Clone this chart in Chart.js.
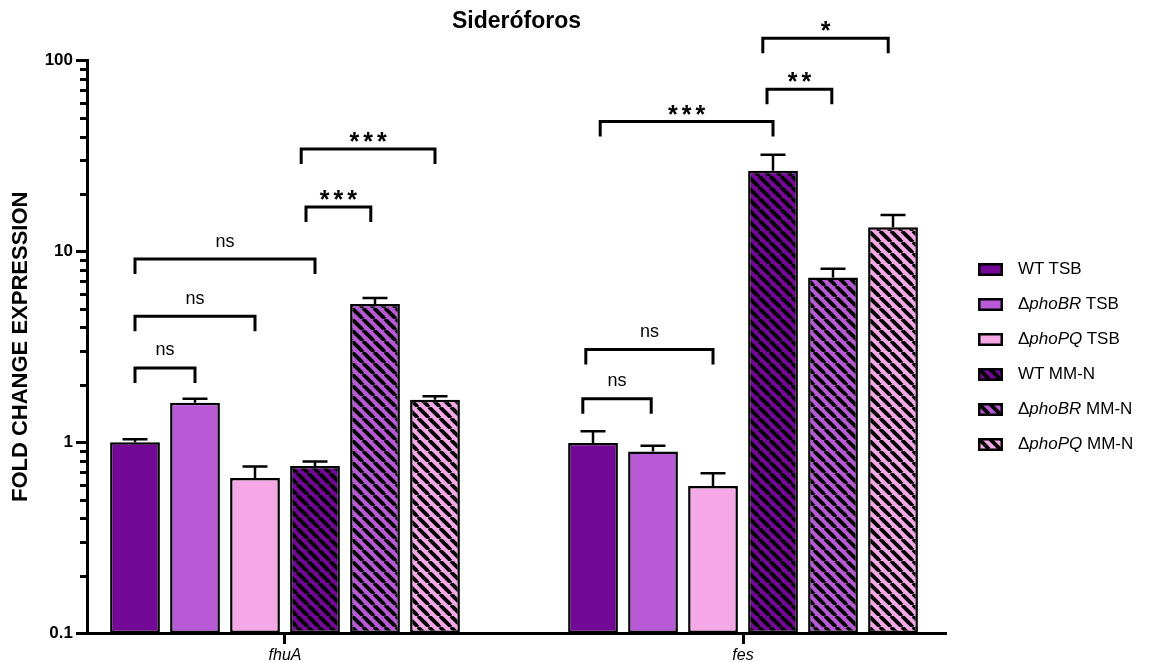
<!DOCTYPE html>
<html>
<head>
<meta charset="utf-8">
<script src="https://cdn.jsdelivr.net/npm/chart.js@4.4.1/dist/chart.umd.min.js"></script>
<style>
  body { margin: 0; background: #fff; }
  #wrap { position: relative; width: 1151px; height: 663px; }
  #legend { position: absolute; left: 978px; top: 0; font: 17px "Liberation Sans", Arial, sans-serif; color: #000; }
  .row { position: absolute; left: 0; height: 20px; display: flex; align-items: center; white-space: nowrap; }
  .row canvas { margin-right: 15px; }
</style>
</head>
<body>
<div id="wrap">
  <canvas id="chart"></canvas>
  <div id="legend"></div>
</div>
<script>
// data
const categories = ["fhuA", "fes"];
const seriesNames = ["WT TSB", "Δ<i>phoBR</i> TSB", "Δ<i>phoPQ</i> TSB", "WT MM-N", "Δ<i>phoBR</i> MM-N", "Δ<i>phoPQ</i> MM-N"];
const seriesColors = ["#740896", "#b85ad6", "#f5a8e6", "#740896", "#b85ad6", "#f5a8e6"];
const seriesHatched = [false, false, false, true, true, true];

const wtTsb = [1.0, 0.99];
const phoBRTsb = [1.61, 0.894];
const phoPQTsb = [0.65, 0.59];
const wtMMN = [0.75, 26.5];
const phoBRMMN = [5.3, 7.3];
const phoPQMMN = [1.67, 13.4];

const wtTsbErr = [0.035, 0.15];
const phoBRTsbErr = [0.08, 0.065];
const phoPQTsbErr = [0.095, 0.097];
const wtMMNErr = [0.043, 5.6];
const phoBRMMNErr = [0.4, 0.8];
const phoPQMMNErr = [0.07, 2.1];

const yTickValues = [0.1, 1, 10, 100];
const yTickLabels = ["0.1", "1", "10", "100"];

// significance brackets: [category, from bar, to bar, height, label]
const brackets = [
  [0, 0, 1, 2.45, "ns"],
  [0, 0, 2, 4.57, "ns"],
  [0, 0, 3, 9.12, "ns"],
  [0, 2.85, 3.93, 17.1, "***"],
  [0, 2.77, 5, 34.4, "***"],
  [1, -0.17, 0.97, 1.69, "ns"],
  [1, -0.12, 2, 3.06, "ns"],
  [1, 0.12, 3, 47.9, "***"],
  [1, 2.9, 3.98, 70.8, "**"],
  [1, 2.83, 4.92, 131, "*"]
];

const values = [wtTsb, phoBRTsb, phoPQTsb, wtMMN, phoBRMMN, phoPQMMN];
const errors = [wtTsbErr, phoBRTsbErr, phoPQTsbErr, wtMMNErr, phoBRMMNErr, phoPQMMNErr];

const FONT = '"Liberation Sans", Arial, sans-serif';
Chart.defaults.font.family = FONT;
Chart.defaults.color = "#000";

function makeFill(ctx, color, hatched) {
  if (!hatched) return color;
  const s = 11;
  const c = document.createElement("canvas");
  c.width = c.height = s;
  const g = c.getContext("2d");
  g.fillStyle = color;
  g.fillRect(0, 0, s, s);
  g.strokeStyle = "#000";
  g.lineWidth = 3.8;
  for (const x0 of [-s, 0, s]) {
    g.beginPath();
    g.moveTo(x0, 0);
    g.lineTo(x0 + s, s);
    g.stroke();
  }
  return ctx.createPattern(c, "repeat");
}

const canvas = document.getElementById("chart");
const ctx = canvas.getContext("2d");

// minor ticks on the log axis
const minorTicks = {
  id: "minorTicks",
  afterDraw(chart) {
    const y = chart.scales.y;
    const c = chart.ctx;
    c.save();
    c.strokeStyle = "#000";
    c.lineWidth = 3;
    for (const d of [0.1, 1, 10]) {
      for (let m = 2; m <= 9; m++) {
        const py = Math.round(y.getPixelForValue(d * m)) + 0.5;
        c.beginPath();
        c.moveTo(y.right - 7, py);
        c.lineTo(y.right, py);
        c.stroke();
      }
    }
    c.restore();
  }
};

const errorBars = {
  id: "errorBars",
  afterDatasetsDraw(chart) {
    const y = chart.scales.y;
    const c = chart.ctx;
    c.save();
    c.strokeStyle = "#000";
    c.lineWidth = 2.5;
    values.forEach((vals, i) => {
      chart.getDatasetMeta(i).data.forEach((bar, k) => {
        const top = y.getPixelForValue(vals[k] + errors[i][k]);
        c.beginPath();
        c.moveTo(bar.x, bar.y);
        c.lineTo(bar.x, top);
        c.moveTo(bar.x - 12.5, top);
        c.lineTo(bar.x + 12.5, top);
        c.stroke();
      });
    });
    c.restore();
  }
};

const sigBrackets = {
  id: "sigBrackets",
  afterDatasetsDraw(chart) {
    const y = chart.scales.y;
    const c = chart.ctx;
    c.save();
    c.strokeStyle = "#000";
    c.fillStyle = "#000";
    c.lineWidth = 3;
    c.textAlign = "center";
    c.textBaseline = "alphabetic";
    for (const [cat, from, to, h, label] of brackets) {
      const x0 = chart.getDatasetMeta(0).data[cat].x;
      const pitch = chart.getDatasetMeta(1).data[cat].x - x0;
      const xa = x0 + from * pitch;
      const xb = x0 + to * pitch;
      const py = y.getPixelForValue(h);
      c.beginPath();
      c.moveTo(xa, py + 15);
      c.lineTo(xa, py);
      c.lineTo(xb, py);
      c.lineTo(xb, py + 15);
      c.stroke();
      if (label === "ns") {
        c.font = "18px " + FONT;
        c.letterSpacing = "0px";
        c.fillText(label, (xa + xb) / 2, py - 12.5);
      } else {
        c.font = "bold 25px " + FONT;
        c.letterSpacing = "4px";
        c.fillText(label, (xa + xb) / 2 + 2, py + 1);
      }
    }
    c.restore();
  }
};

new Chart(canvas, {
  type: "bar",
  data: {
    datasets: values.map((vals, i) => ({
      label: seriesNames[i],
      data: vals.map((v, k) => ({ x: k, y: v })),
      backgroundColor: makeFill(ctx, seriesColors[i], seriesHatched[i]),
      borderColor: "#000",
      borderWidth: 2.5,
      borderSkipped: false
    }))
  },
  options: {
    responsive: true,
    maintainAspectRatio: false,
    animation: false,
    layout: { padding: { left: 0, right: 205, top: 0, bottom: 0 } },
    datasets: { bar: { categoryPercentage: 0.786, barPercentage: 0.83 } },
    plugins: {
      legend: { display: false },
      tooltip: { enabled: false },
      title: {
        display: true,
        text: "Sideróforos",
        fullSize: false,
        color: "#000",
        font: { size: 23, weight: "bold" },
        padding: { top: 8, bottom: 25 }
      }
    },
    scales: {
      x: {
        type: "linear",
        offset: false,
        min: -0.4323,
        max: 1.4432,
        afterBuildTicks: s => { s.ticks = categories.map((c, i) => ({ value: i })); },
        afterFit: s => { s.height = 30; },
        ticks: {
          callback: (v, i) => categories[i],
          font: { style: "italic", size: 16 },
          color: "#000",
          padding: 2,
          maxRotation: 0,
          autoSkip: false
        },
        grid: { offset: false, drawOnChartArea: false, tickLength: 11, tickWidth: 3, tickColor: "#000" },
        border: { width: 3, color: "#000" }
      },
      y: {
        type: "logarithmic",
        min: 0.1,
        max: 100,
        afterBuildTicks: s => { s.ticks = yTickValues.map(v => ({ value: v, major: true })); },
        afterFit: s => { s.width = 87; },
        ticks: {
          callback: (v, i) => yTickLabels[i],
          font: { size: 17, weight: "bold" },
          color: "#000",
          padding: 3
        },
        grid: { drawOnChartArea: false, tickLength: 11, tickWidth: 3, tickColor: "#000" },
        border: { width: 3, color: "#000" },
        title: {
          display: true,
          text: "FOLD CHANGE EXPRESSION",
          color: "#000",
          font: { size: 22, weight: "bold" },
          padding: { top: 8, bottom: 0 }
        }
      }
    }
  },
  plugins: [minorTicks, errorBars, sigBrackets]
});

// legend, built from the same series arrays
const legend = document.getElementById("legend");
seriesNames.forEach((name, i) => {
  const row = document.createElement("div");
  row.className = "row";
  row.style.top = (259 + 35 * i) + "px";
  const sw = document.createElement("canvas");
  sw.width = 25;
  sw.height = 13;
  const g = sw.getContext("2d");
  g.fillStyle = makeFill(g, seriesColors[i], seriesHatched[i]);
  g.fillRect(0, 0, 25, 13);
  g.strokeStyle = "#000";
  g.lineWidth = 2.5;
  g.strokeRect(1.25, 1.25, 22.5, 10.5);
  const label = document.createElement("span");
  label.innerHTML = name;
  row.appendChild(sw);
  row.appendChild(label);
  legend.appendChild(row);
});
</script>
</body>
</html>
